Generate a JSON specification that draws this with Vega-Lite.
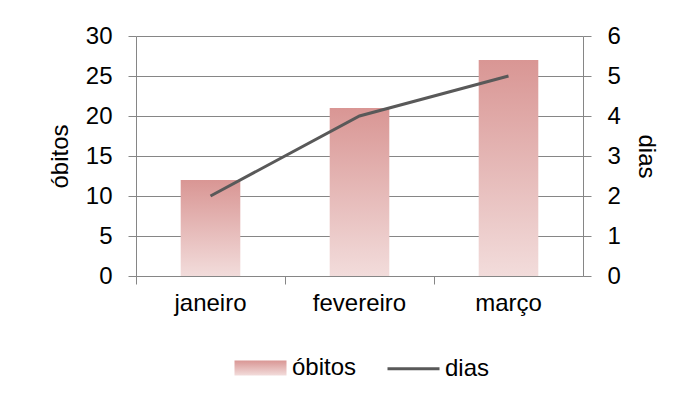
{
  "$schema": "https://vega.github.io/schema/vega-lite/v6.json",
  "width": 447,
  "height": 240,
  "autosize": "none",
  "padding": {"left": 136, "top": 36, "right": 100, "bottom": 125},
  "background": "white",
  "config": {
    "font": "Liberation Sans",
    "view": {"stroke": null},
    "axis": {
      "labelFont": "Liberation Sans",
      "labelFontSize": 24,
      "labelColor": "black",
      "titleFont": "Liberation Sans",
      "titleFontSize": 24,
      "titleFontWeight": "normal",
      "titleColor": "black",
      "domainColor": "#868686",
      "tickColor": "#868686",
      "gridColor": "#868686",
      "gridOpacity": 1,
      "tickSize": 8
    }
  },
  "data": {
    "values": [
      {"mes": "janeiro", "obitos": 12, "dias": 2},
      {"mes": "fevereiro", "obitos": 21, "dias": 4},
      {"mes": "março", "obitos": 27, "dias": 5}
    ]
  },
  "encoding": {
    "x": {
      "field": "mes",
      "type": "nominal",
      "sort": null,
      "scale": {"paddingInner": 0, "paddingOuter": 0},
      "axis": {"title": null, "labelAngle": 0, "bandPosition": 0, "labelPadding": 7, "grid": false}
    }
  },
  "layer": [
    {
      "mark": {
        "type": "bar",
        "width": {"band": 0.4},
        "fill": {
          "gradient": "linear", "x1": 0, "y1": 0, "x2": 0, "y2": 1,
          "stops": [{"offset": 0, "color": "#d99694"}, {"offset": 1, "color": "#f2dcdb"}]
        }
      },
      "encoding": {
        "y": {
          "field": "obitos",
          "type": "quantitative",
          "title": "óbitos",
          "scale": {"domain": [0, 30]},
          "axis": {"values": [0, 5, 10, 15, 20, 25, 30], "grid": true, "labelPadding": 16, "titlePadding": 13}
        }
      }
    },
    {
      "mark": {"type": "line", "strokeWidth": 3},
      "encoding": {
        "y": {
          "field": "dias",
          "type": "quantitative",
          "title": "dias",
          "scale": {"domain": [0, 6]},
          "axis": {"orient": "right", "values": [0, 1, 2, 3, 4, 5, 6], "grid": false, "labelPadding": 16, "titlePadding": 13}
        },
        "stroke": {
          "datum": "dias",
          "scale": {"domain": ["óbitos", "dias"], "range": ["transparent", "#595959"]},
          "legend": {
            "orient": "none",
            "legendX": 97,
            "legendY": 304,
            "direction": "horizontal",
            "title": null,
            "symbolSize": 2704,
            "symbolStrokeWidth": 3,
            "labelFontSize": 24,
            "labelFont": "Liberation Sans",
            "labelColor": "black",
            "labelOffset": 4,
            "columnPadding": 24,
            "encode": {
              "symbols": {
                "update": {
                  "shape": {"signal": "datum.value === 'dias' ? 'stroke' : 'M-1,-0.29H1V0.29H-1Z'"},
                  "fill": {"signal": "datum.value === 'dias' ? 'transparent' : {gradient: 'linear', x1: 0, y1: 0, x2: 0, y2: 1, stops: [{offset: 0, color: '#d99694'}, {offset: 1, color: '#f2dcdb'}]}"},
                  "stroke": {"signal": "datum.value === 'dias' ? '#595959' : 'transparent'"}
                }
              }
            }
          }
        }
      }
    }
  ],
  "resolve": {"scale": {"y": "independent"}}
}
